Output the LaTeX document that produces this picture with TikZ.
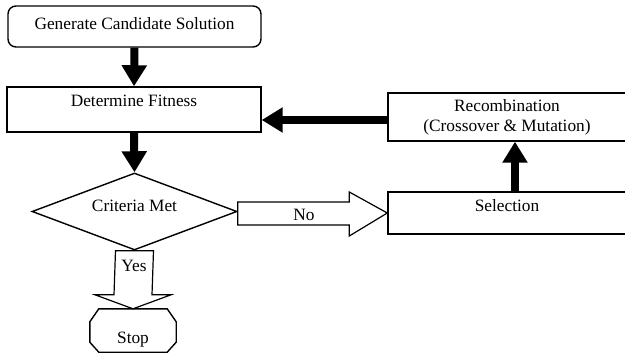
\documentclass[tikz,border=0pt]{standalone}
\usepackage{fontspec}
\setmainfont{Liberation Serif}
\usetikzlibrary{arrows.meta,positioning,shapes.geometric,calc}

\begin{document}
\begin{tikzpicture}[x=1pt,y=-1pt,font=\fontsize{17.3}{20}\selectfont,
    box/.style={draw,line width=1.4pt,text height=14pt,text depth=21pt,inner sep=5pt},
    bigarrow/.style={line width=8pt,-{Triangle[width=24pt,length=21pt]}},
    hollow/.style={draw,line width=1.2pt,fill=white,line join=miter}]
        \useasboundingbox (0,0) rectangle (625,356);
        \node[draw,line width=1.4pt,rounded corners=8pt,minimum width=253pt,minimum height=41pt,text depth=6pt] (gen) at (134.5,26.5) {Generate Candidate Solution};
        \node[box,minimum width=254pt] (fit) at (134,109.5) {Determine Fitness};
        \node[diamond,draw,line width=1.4pt,aspect=2.66,minimum width=205pt,minimum height=77pt,inner sep=0pt,text height=10pt,text depth=11pt] (crit) at (134.5,211.5) {Criteria Met};
        \node[box,text depth=18pt,minimum width=238pt] (sel) at (507,213) {Selection};
        \node[draw,line width=1.4pt,align=center,minimum width=238pt,minimum height=48pt] (recomb) at (507,117) {Recombination\\(Crossover \& Mutation)};
        \node[minimum width=86pt,minimum height=43pt,text height=29pt,text depth=4pt,inner sep=0pt] (stop) at (133,330.5) {Stop};
        \draw[line width=1.4pt,line join=miter] ($(stop.north west)+(9,0)$) -- ($(stop.north east)+(-9,0)$) -- ($(stop.north east)+(0,13)$)
          -- ($(stop.south east)+(0,-10)$) -- ($(stop.south east)+(-9,0)$) -- ($(stop.south west)+(9,0)$)
          -- ($(stop.south west)+(0,-10)$) -- ($(stop.north west)+(0,13)$) -- cycle;
        % solid arrows
        \draw[bigarrow] (gen.south) -- (fit.north);
        \draw[bigarrow] (fit.south) -- (crit.north);
        \draw[bigarrow] ([xshift=8pt]sel.north) -- ([xshift=8pt]recomb.south);
        \draw[bigarrow] ([yshift=-3pt]recomb.west) -- ([yshift=-3pt]recomb.west -| fit.east);
        % block arrows
        \draw[hollow] ($(crit.east)+(0,-9.5)$) -- ($(sel.west)+(-38,-11)$) -- ($(sel.west)+(-38,-21)$) -- (sel.west)
          -- ($(sel.west)+(-38,23)$) -- ($(sel.west)+(-38,12)$) -- ($(crit.east)+(0,13.5)$) -- cycle;
        \node (no) at (304,215) {No};
        \draw[hollow] ($(crit.south)+(-19,0)$) -- ($(stop.north)+(-19,-14)$) -- ($(stop.north)+(-38,-14)$) -- (stop.north)
          -- ($(stop.north)+(38,-14)$) -- ($(stop.north)+(19,-14)$) -- ($(crit.south)+(19,0)$) -- cycle;
        \node (yes) at (134,266) {Yes};
      \end{tikzpicture}
\end{document}
